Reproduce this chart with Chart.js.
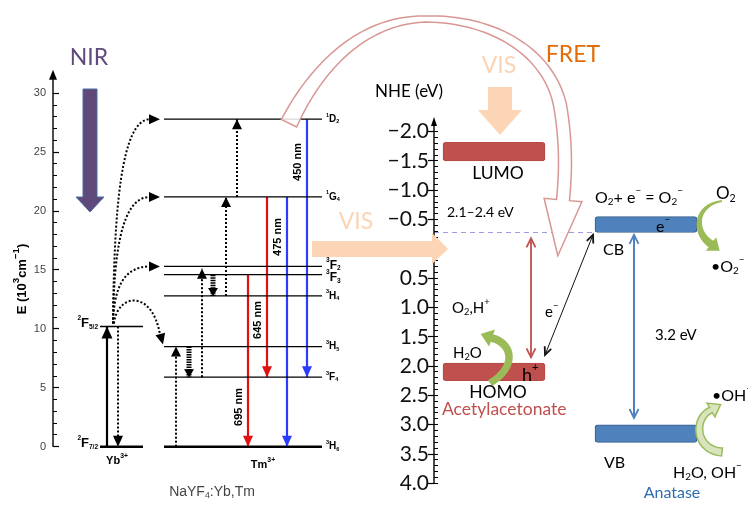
<!DOCTYPE html>
<html><head><meta charset="utf-8">
<script src="https://cdn.jsdelivr.net/npm/chart.js@4.4.1/dist/chart.umd.min.js"></script>
<style>html,body{margin:0;padding:0;background:#fff}#wrap{width:748px;height:506px}</style>
</head><body><div id="wrap"><canvas id="c" width="748" height="506"></canvas></div>
<script>
// ================= DATA =================
const energyTicks = [0, 5, 10, 15, 20, 25, 30];               // 10^3 cm^-1
const nheTicks = [-2.0, -1.5, -1.0, -0.5, 0.5, 1.0, 1.5, 2.0, 2.5, 3.0, 3.5, 4.0]; // eV
const ybLevelNames = ['^{2}F_{7/2}', '^{2}F_{5/2}'];
const ybLevels = [0, 10.2];
const tmLevelNames = ['^{1}D_{2}', '^{1}G_{4}', '^{3}F_{2}', '^{3}F_{3}', '^{3}H_{4}', '^{3}H_{5}', '^{3}F_{4}', '^{3}H_{6}'];
const tmLevels = [27.8, 21.2, 15.3, 14.6, 12.8, 8.5, 5.9, 0];
const emissionNm = [450, 475, 645, 695];
const emissionFrom = [27.8, 21.2, 21.2, 14.6];
const emissionTo = [5.9, 0, 5.9, 0];
const etFrom = [0, 5.9, 12.8, 21.2];       // Tm ladder energy transfer (dotted up)
const etTo = [8.5, 15.1, 21.2, 27.8];
const nrFrom = [8.5, 14.6];                 // non-radiative relaxation
const nrTo = [5.9, 12.8];
const ybEtTargets = [27.8, 21.2, 15.3, 8.5]; // Yb -> Tm transfers
const bandNames = ['LUMO', 'HOMO', 'CB', 'VB'];
const bandTop = [-1.82, 1.95, -0.55, 3.0];   // NHE eV
const bandBottom = [-1.5, 2.25, -0.28, 3.3];
const acacGap = [-0.18, 1.85];
const anataseGap = [-0.24, 2.885];
const cbDashLevel = -0.28;
const eTransfer = [1.81, -0.24];

// ================= LAYOUT / STYLE =================
const L = {
  eAxisX: 53, eLabelX: 46, nAxisX: 434, nLabelX: 429,
  ybX: [100, 143], tmX: [164, 322], emisX: [307, 287, 267, 248], emisLabelY: [162, 237, 320, 407],
  etX: [176, 202, 226, 237], nrX: [189, 213], ybUpX: 107, ybDownX: 118,
  bandX: [494, 494, 646, 646], bandW: 102,
  cbDashX: [434, 595], acacGapX: 531, tioGapX: 634, eTransX: [545, 593]
};
const LEFT_FONT = '"Liberation Sans", Arial, sans-serif';
const RIGHT_FONT = 'Lato, "Open Sans", sans-serif';

function seg(x0, y0, x1, y1) { return [{x: x0, y: y0}, {x: x1, y: y1}]; }
function lineDS(data, yAxisID, color, width, extra) {
  return Object.assign({type: 'line', data, yAxisID, xAxisID: 'x', borderColor: color, backgroundColor: color,
    borderWidth: width, pointRadius: 0, pointHoverRadius: 0, fill: false, tension: 0, clip: false, order: 1}, extra || {});
}

const datasets = [];
datasets.push({
  type: 'bar', xAxisID: 'x', yAxisID: 'yN', order: 5, clip: false,
  data: bandNames.map((n, i) => ({x: L.bandX[i], y: [bandTop[i], bandBottom[i]]})),
  backgroundColor: bandNames.map(n => (n === 'CB' || n === 'VB') ? '#4f81bd' : '#c0504d'),
  borderColor: bandNames.map(n => (n === 'CB' || n === 'VB') ? '#385d8a' : '#b54a47'),
  borderWidth: 1, borderSkipped: false, borderRadius: 3, barThickness: L.bandW
});
ybLevels.forEach(e => datasets.push(lineDS(seg(L.ybX[0], e, L.ybX[1], e), 'yE', '#000', e === 0 ? 2.6 : 1.4)));
tmLevels.forEach(e => datasets.push(lineDS(seg(L.tmX[0], e, L.tmX[1], e), 'yE', '#000', e === 0 ? 2.6 : 1.2)));
emissionNm.forEach((nm, i) => datasets.push(lineDS(seg(L.emisX[i], emissionFrom[i], L.emisX[i], emissionTo[i]), 'yE',
  nm < 500 ? '#2a3cff' : '#e01010', 2.2, {arrow: 'end', headLen: 11, headW: 10})));
etFrom.forEach((f, i) => datasets.push(lineDS(seg(L.etX[i], f, L.etX[i], etTo[i]), 'yE', '#000', 2,
  {borderDash: [2, 2], arrow: 'end', headLen: 10, headW: 10})));
nrFrom.forEach((f, i) => datasets.push(lineDS(seg(L.nrX[i], f, L.nrX[i], nrTo[i]), 'yE', '#000', 5,
  {borderDash: [1.5, 1], arrow: 'end', headLen: 8, headW: 10})));
datasets.push(lineDS(seg(L.ybUpX, ybLevels[0], L.ybUpX, ybLevels[1]), 'yE', '#000', 2.2, {arrow: 'end', headLen: 12, headW: 11}));
datasets.push(lineDS(seg(L.ybDownX, ybLevels[1], L.ybDownX, ybLevels[0]), 'yE', '#000', 2, {borderDash: [2, 2], arrow: 'end', headLen: 11, headW: 10}));
datasets.push(lineDS(seg(L.cbDashX[0], cbDashLevel, L.cbDashX[1], cbDashLevel), 'yN', '#9a9ae6', 1, {borderDash: [5, 4]}));
datasets.push(lineDS(seg(L.acacGapX, acacGap[0], L.acacGapX, acacGap[1]), 'yN', '#c0504d', 1.8, {arrow: 'both', headLen: 9, headW: 9, headOpen: true}));
datasets.push(lineDS(seg(L.tioGapX, anataseGap[0], L.tioGapX, anataseGap[1]), 'yN', '#4f81bd', 2, {arrow: 'both', headLen: 9, headW: 9, headOpen: true}));
datasets.push(lineDS(seg(L.eTransX[0], eTransfer[0], L.eTransX[1], eTransfer[1]), 'yN', '#111', 1, {arrow: 'both', headLen: 8, headW: 7, headOpen: true}));

// ================= DRAW HELPERS =================
function head(ctx, x, y, ang, len, w, color, open) {
  ctx.save(); ctx.translate(x, y); ctx.rotate(ang);
  ctx.beginPath();
  if (open) {
    ctx.moveTo(-len, -w / 2); ctx.lineTo(0, 0); ctx.lineTo(-len, w / 2);
    ctx.strokeStyle = color; ctx.lineWidth = 1.8; ctx.setLineDash([]); ctx.stroke();
  } else {
    ctx.moveTo(0, 0); ctx.lineTo(-len, -w / 2); ctx.lineTo(-len, w / 2); ctx.closePath();
    ctx.fillStyle = color; ctx.fill();
  }
  ctx.restore();
}
function richText(ctx, str, x, y, size, o) {
  o = o || {};
  const fam = o.family || RIGHT_FONT, wt = o.weight || 'normal';
  const parts = [];
  const re = /(\^\{[^}]*\}|_\{[^}]*\})/g;
  str.split(re).forEach(p => {
    if (!p) return;
    if (p[0] === '^') parts.push({t: p.slice(2, -1), s: size * (o.supScale || 0.62), dy: -size * 0.42});
    else if (p[0] === '_' && p[1] === '{') parts.push({t: p.slice(2, -1), s: size * (o.supScale || 0.62), dy: size * 0.25});
    else parts.push({t: p, s: size, dy: 0});
  });
  let total = 0;
  parts.forEach(p => { ctx.font = wt + ' ' + p.s + 'px ' + fam; p.w = ctx.measureText(p.t).width; total += p.w; });
  ctx.save();
  ctx.translate(x, y);
  if (o.rot) ctx.rotate(o.rot);
  let cx = o.align === 'center' ? -total / 2 : (o.align === 'right' ? -total : 0);
  ctx.fillStyle = o.color || '#000';
  ctx.textBaseline = 'middle'; ctx.textAlign = 'left';
  parts.forEach(p => { ctx.font = wt + ' ' + p.s + 'px ' + fam; ctx.fillText(p.t, cx, p.dy); cx += p.w; });
  ctx.restore();
}
function cubicPt(p0, p1, p2, p3, t) {
  const u = 1 - t;
  return {x: u*u*u*p0[0] + 3*u*u*t*p1[0] + 3*u*t*t*p2[0] + t*t*t*p3[0],
          y: u*u*u*p0[1] + 3*u*u*t*p1[1] + 3*u*t*t*p2[1] + t*t*t*p3[1]};
}
function ribbon(ctx, segs, widths, headLen, headW, fill, stroke, lw) {
  const pts = [], ws = [];
  segs.forEach((s, si) => {
    for (let k = (si === 0 ? 0 : 1); k <= 30; k++) {
      const t = k / 30; pts.push(cubicPt(s[0], s[1], s[2], s[3], t));
      ws.push(widths[si] + (widths[si + 1] - widths[si]) * t);
    }
  });
  const Lp = [], Rp = [];
  for (let i = 0; i < pts.length; i++) {
    const a = pts[Math.max(0, i - 1)], b = pts[Math.min(pts.length - 1, i + 1)];
    let dx = b.x - a.x, dy = b.y - a.y; const d = Math.hypot(dx, dy) || 1; dx /= d; dy /= d;
    const nx = -dy, ny = dx, h = ws[i] / 2;
    Lp.push({x: pts[i].x + nx * h, y: pts[i].y + ny * h});
    Rp.push({x: pts[i].x - nx * h, y: pts[i].y - ny * h});
  }
  const n = pts.length - 1;
  let dx = pts[n].x - pts[n - 2].x, dy = pts[n].y - pts[n - 2].y; const d = Math.hypot(dx, dy); dx /= d; dy /= d;
  const nx = -dy, ny = dx, e = pts[n];
  ctx.save();
  ctx.beginPath();
  ctx.moveTo(Lp[0].x, Lp[0].y);
  Lp.forEach(p => ctx.lineTo(p.x, p.y));
  ctx.lineTo(e.x + nx * headW / 2, e.y + ny * headW / 2);
  ctx.lineTo(e.x + dx * headLen, e.y + dy * headLen);
  ctx.lineTo(e.x - nx * headW / 2, e.y - ny * headW / 2);
  for (let i = Rp.length - 1; i >= 0; i--) ctx.lineTo(Rp[i].x, Rp[i].y);
  ctx.closePath();
  if (fill) { ctx.fillStyle = fill; ctx.fill(); }
  if (stroke) { ctx.strokeStyle = stroke; ctx.lineWidth = lw || 1.5; ctx.lineJoin = 'miter'; ctx.stroke(); }
  ctx.restore();
}
function blockArrowDown(ctx, cx, yTop, shaftW, yHeadBase, headW, yTip, fill, stroke) {
  ctx.beginPath();
  ctx.moveTo(cx - shaftW / 2, yTop); ctx.lineTo(cx + shaftW / 2, yTop); ctx.lineTo(cx + shaftW / 2, yHeadBase);
  ctx.lineTo(cx + headW / 2, yHeadBase); ctx.lineTo(cx, yTip); ctx.lineTo(cx - headW / 2, yHeadBase);
  ctx.lineTo(cx - shaftW / 2, yHeadBase); ctx.closePath();
  ctx.fillStyle = fill; ctx.fill();
  if (stroke) { ctx.strokeStyle = stroke; ctx.lineWidth = 1; ctx.stroke(); }
}

const arrowPlugin = {
  id: 'arrows',
  afterDatasetsDraw(chart) {
    const ctx = chart.ctx;
    chart.data.datasets.forEach((ds, i) => {
      if (!ds.arrow) return;
      const pts = chart.getDatasetMeta(i).data; if (pts.length < 2) return;
      const a = pts[0], b = pts[pts.length - 1];
      const ang = Math.atan2(b.y - a.y, b.x - a.x);
      head(ctx, b.x, b.y, ang, ds.headLen, ds.headW, ds.borderColor, ds.headOpen);
      if (ds.arrow === 'both') head(ctx, a.x, a.y, ang + Math.PI, ds.headLen, ds.headW, ds.borderColor, ds.headOpen);
    });
  }
};

const decoPlugin = {
  id: 'deco',
  afterDraw(chart) {
    const ctx = chart.ctx, yE = chart.scales.yE, yN = chart.scales.yN, xs = chart.scales.x;
    const X = v => xs.getPixelForValue(v);
    ctx.save();
    ctx.strokeStyle = '#000'; ctx.lineWidth = 1.4; ctx.setLineDash([]);
    ctx.beginPath(); ctx.moveTo(X(L.eAxisX), yE.getPixelForValue(0)); ctx.lineTo(X(L.eAxisX), yE.getPixelForValue(31.2)); ctx.stroke();
    head(ctx, X(L.eAxisX), yE.getPixelForValue(32.0), -Math.PI / 2, 10, 8, '#000');
    ctx.beginPath(); ctx.moveTo(X(L.nAxisX), yN.getPixelForValue(4.0)); ctx.lineTo(X(L.nAxisX), yN.getPixelForValue(-2.12)); ctx.stroke();
    head(ctx, X(L.nAxisX), yN.getPixelForValue(-2.25), -Math.PI / 2, 9, 6, '#000');

    const sx = X(113), sy = yE.getPixelForValue(ybLevels[1]) - 3;
    ctx.strokeStyle = '#000'; ctx.lineWidth = 2; ctx.setLineDash([2, 2]);
    ybEtTargets.forEach((t, i) => {
      const ty = yE.getPixelForValue(t);
      ctx.beginPath();
      if (i < 3) {
        ctx.moveTo(sx, sy);
        ctx.bezierCurveTo(sx + 1, sy - (sy - ty) * 0.55, sx + 8, ty, X(150), ty);
        ctx.stroke();
        ctx.setLineDash([]); head(ctx, X(160), ty, 0, 11, 10, '#000'); ctx.setLineDash([2, 2]);
      } else {
        ctx.moveTo(sx + 1, sy);
        ctx.bezierCurveTo(sx + 4, sy - 30, X(152), sy - 35, X(160), ty - 12);
        ctx.stroke();
        ctx.setLineDash([]); head(ctx, X(163), ty - 2, Math.PI * 0.42, 11, 10, '#000'); ctx.setLineDash([2, 2]);
      }
    });
    ctx.setLineDash([]);

    blockArrowDown(ctx, 90, 89, 14, 197, 28, 212, '#5f497a', '#4a6fa5');

    const y0 = yN.getPixelForValue(0);
    ctx.beginPath();
    ctx.moveTo(312, y0 - 8); ctx.lineTo(432, y0 - 8); ctx.lineTo(432, y0 - 16); ctx.lineTo(448, y0);
    ctx.lineTo(432, y0 + 15); ctx.lineTo(432, y0 + 8); ctx.lineTo(312, y0 + 8); ctx.closePath();
    ctx.fillStyle = '#fbd5b5'; ctx.fill();
    blockArrowDown(ctx, 500, 87, 24, 110, 44, 135, '#fbd5b5');

    const fy0 = yE.getPixelForValue(tmLevels[0]) + 4;
    ribbon(ctx, [
      [[289, fy0], [315, 70], [360, 20], [425, 19]],
      [[425, 19], [490, 18], [548, 50], [560, 105]],
      [[560, 105], [566, 140], [566, 170], [563, 200]]
    ], [17, 6, 13, 13], 56, 38, 'rgba(255,255,255,0.85)', '#d99694', 1.5);

    ribbon(ctx, [[[490, 383], [516, 368], [514, 344], [492, 338]]], [7, 8], 12, 18, '#9bbb59', null);
    ribbon(ctx, [[[722, 201], [695, 205], [693, 232], [711, 244]]], [2, 8], 11, 17, '#9bbb59', null);
    ribbon(ctx, [[[722, 452], [695, 450], [693, 418], [711, 410]]], [8, 6], 11, 16, '#d7e4bd', '#9bbb59', 1.5);
    ctx.restore();

    const LF = LEFT_FONT;
    richText(ctx, 'NIR', 89, 58, 23, {align: 'center', color: '#604a7b'});
    richText(ctx, 'E (10^{3}cm^{−1})', 22, 279, 13, {align: 'center', weight: 'bold', family: LF, rot: -Math.PI / 2, supScale: 0.75});
    ybLevelNames.forEach((n, i) => richText(ctx, n, 98, yE.getPixelForValue(ybLevels[i]) - 3, 13, {align: 'right', weight: 'bold', family: LF, supScale: 0.5}));
    tmLevelNames.forEach((n, i) => richText(ctx, n, 326, yE.getPixelForValue(tmLevels[i]) + (i === 2 ? -1 : (i === 3 ? 3 : 0)), n.indexOf('F_{2}') > 0 || n.indexOf('F_{3}') > 0 ? 12 : 10,
      {align: 'left', weight: 'bold', family: LF, supScale: 0.55}));
    richText(ctx, 'Yb^{3+}', 117, 461, 11, {align: 'center', weight: 'bold', family: LF});
    richText(ctx, 'Tm^{3+}', 263, 465, 11, {align: 'center', weight: 'bold', family: LF});
    richText(ctx, 'NaYF_{4}:Yb,Tm', 212, 492, 14, {align: 'center', family: LF, color: '#444'});
    emissionNm.forEach((nm, i) => richText(ctx, nm + ' nm', L.emisX[i] - 9, L.emisLabelY[i], 11, {align: 'center', weight: 'bold', family: LF, rot: -Math.PI / 2}));
    richText(ctx, 'VIS', 356, 222, 23, {align: 'center', color: '#fbd4b4'});
    richText(ctx, 'VIS', 499, 66, 23, {align: 'center', color: '#fbd4b4'});
    richText(ctx, 'FRET', 573, 55, 23, {align: 'center', color: '#e36c09'});
    richText(ctx, 'NHE (eV)', 409, 92, 17, {align: 'center'});
    richText(ctx, 'LUMO', 498, 173, 17.5, {align: 'center'});
    richText(ctx, '2.1–2.4 eV', 447, 212, 14, {});
    richText(ctx, 'O_{2},H^{+}', 452, 308, 15, {});
    richText(ctx, 'H_{2}O', 453, 353, 15, {});
    richText(ctx, 'h^{+}', 522, 375, 18, {});
    richText(ctx, 'HOMO', 498, 392, 17.5, {align: 'center'});
    richText(ctx, 'Acetylacetonate', 442, 409, 17.5, {color: '#c0504d'});
    richText(ctx, 'e^{−}', 545, 312, 15, {});
    richText(ctx, 'O_{2}+ e^{−} = O_{2}^{−}', 595, 198, 16, {});
    richText(ctx, 'O_{2}', 716, 194, 17, {});
    richText(ctx, 'CB', 603, 250, 16, {});
    richText(ctx, 'e^{−}', 656, 227, 16, {});
    richText(ctx, '•O_{2}^{−}', 711, 267, 16, {});
    richText(ctx, '3.2 eV', 655, 335, 15, {});
    richText(ctx, '•OH^{−}', 712, 396, 16, {});
    richText(ctx, 'VB', 604, 463, 16, {});
    richText(ctx, 'H_{2}O, OH^{−}', 673, 473, 16, {});
    richText(ctx, 'Anatase', 672, 493, 16, {align: 'center', color: '#2e6db0'});
  }
};

// ================= SCALES =================
const common = {type: 'linear', border: {display: false}, grid: {drawOnChartArea: false, drawTicks: true}};
const fixTicks = arr => (axis) => { axis.ticks = arr.map(v => ({value: v})); };
const range = (a, b, s) => { const r = []; for (let v = a; v <= b + 1e-9; v += s) r.push(Math.round(v * 100) / 100); return r; };

new Chart(document.getElementById('c'), {
  type: 'line',
  data: {datasets},
  options: {
    responsive: false, animation: false, devicePixelRatio: 1,
    layout: {padding: {top: 16, bottom: 16, left: 0, right: 0}, autoPadding: false},
    plugins: {legend: {display: false}, tooltip: {enabled: false}},
    scales: {
      x: {type: 'linear', min: 0, max: 748, display: false, offset: false, grid: {offset: false}},
      yE: Object.assign({}, common, {position: {x: L.eLabelX}, min: -3.676, max: 36.562,
        afterBuildTicks: fixTicks(energyTicks),
        grid: {drawOnChartArea: false, drawTicks: false},
        ticks: {font: {family: LEFT_FONT, size: 11}, color: '#444', padding: 0}}),
      yEmaj: Object.assign({}, common, {position: {x: L.eAxisX}, min: -3.676, max: 36.562,
        afterBuildTicks: fixTicks(energyTicks),
        grid: {drawOnChartArea: false, drawTicks: true, tickLength: -6, color: '#000', tickWidth: 1.2},
        ticks: {display: false}}),
      yEmin: Object.assign({}, common, {position: {x: L.eAxisX}, min: -3.676, max: 36.562,
        afterBuildTicks: fixTicks(range(0, 30, 1)),
        grid: {drawOnChartArea: false, drawTicks: true, tickLength: -4, color: '#000', tickWidth: 1},
        ticks: {display: false}}),
      yN: Object.assign({}, common, {position: {x: L.nLabelX}, reverse: true, min: -3.974, max: 4.114,
        afterBuildTicks: fixTicks(nheTicks),
        grid: {drawOnChartArea: false, drawTicks: false},
        ticks: {font: {family: RIGHT_FONT, size: 21}, color: '#111', padding: 0,
          callback: v => (v < 0 ? '−' : '') + Math.abs(v).toFixed(1)}}),
      yNmaj: Object.assign({}, common, {position: {x: L.nAxisX}, reverse: true, min: -3.974, max: 4.114,
        afterBuildTicks: fixTicks(range(-2, 4, 0.5)),
        grid: {drawOnChartArea: false, drawTicks: true, tickLength: 6, color: '#000', tickWidth: 1.2},
        ticks: {display: false}}),
      yNmin: Object.assign({}, common, {position: {x: L.nAxisX}, reverse: true, min: -3.974, max: 4.114,
        afterBuildTicks: fixTicks(range(-2, 4, 0.1)),
        grid: {drawOnChartArea: false, drawTicks: true, tickLength: -4, color: '#000', tickWidth: 1},
        ticks: {display: false}})
    }
  },
  plugins: [arrowPlugin, decoPlugin]
});
</script></body></html>
